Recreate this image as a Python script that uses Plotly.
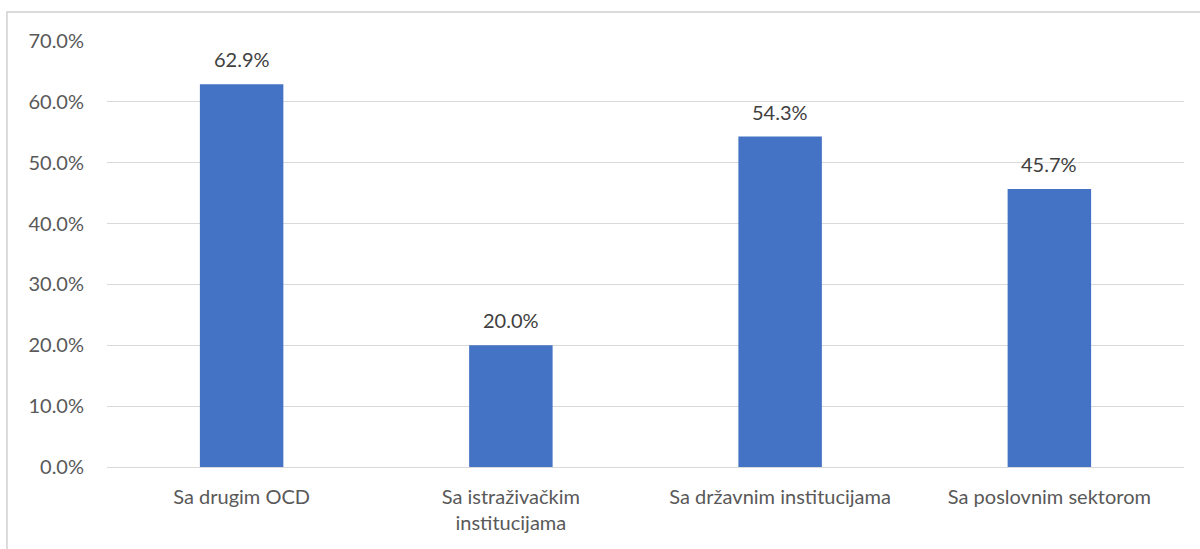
import plotly.graph_objects as go

categories = ["Sa drugim OCD", "Sa istraživačkim<br>institucijama", "Sa državnim institucijama", "Sa poslovnim sektorom"]
values = [62.9, 20.0, 54.3, 45.7]
tick_vals = [0, 10, 20, 30, 40, 50, 60, 70]
tick_text = ["0.0%", "10.0%", "20.0%", "30.0%", "40.0%", "50.0%", "60.0%", "70.0%"]

FONT = "Lato"
SIZE = 20
fig = go.Figure()
fig.add_trace(go.Bar(x=categories, y=values, marker=dict(color="#4472C4", line=dict(width=0)),
                     hoverinfo="skip"))

for c, v in zip(categories, values):
    fig.add_annotation(x=c, y=v, text=f"{v:.1f}%", showarrow=False, yanchor="bottom",
                       yshift=11, font=dict(family=FONT, size=SIZE, color="#404040"))

fig.update_layout(
    width=1200, height=549,
    margin=dict(l=107, r=16, t=41, b=82),
    paper_bgcolor="white", plot_bgcolor="white",
    bargap=0.69, showlegend=False,
    font=dict(family=FONT, size=SIZE, color="#595959"),
    xaxis=dict(showgrid=False, showline=True, linecolor="#d9d9d9", linewidth=1,
               ticks="", tickfont=dict(family=FONT, size=SIZE, color="#595959"),
               ticklabelstandoff=12),
    yaxis=dict(range=[0, 70], tickvals=tick_vals, ticktext=tick_text,
               showgrid=True, gridcolor="#d9d9d9", gridwidth=1, zeroline=False,
               showline=False, ticks="", ticklabelstandoff=22,
               tickfont=dict(family=FONT, size=SIZE, color="#595959")),
    shapes=[dict(type="rect", xref="paper", yref="paper",
                 x0=-0.0929, x1=1.2, y0=-0.3, y1=1.068,
                 line=dict(color="#d0d0d0", width=1.5), fillcolor="rgba(0,0,0,0)", layer="below")],
)

fig.write_html("out.html", config={"displayModeBar": False},
               post_script="document.body.style.margin='0';")
